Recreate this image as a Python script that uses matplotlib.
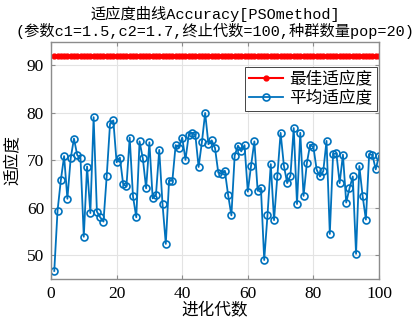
import numpy as np
import matplotlib
matplotlib.use('Agg')
import matplotlib.pyplot as plt

# data
gens = np.arange(1, 101)
best_fit = [92.0] * 100
mean_fit = [46.7, 59.4, 65.8, 70.9, 61.9, 70.4, 74.6, 71.1, 70.4, 53.9,
            68.7, 58.9, 79.1, 59.2, 58.0, 57.1, 66.8, 77.7, 78.4, 69.6,
            70.6, 65.0, 64.5, 74.8, 62.4, 58.0, 74.0, 70.4, 64.1, 73.8,
            62.0, 62.7, 72.2, 60.8, 52.4, 65.7, 65.7, 73.2, 72.7, 74.8,
            70.1, 75.4, 75.8, 75.4, 68.6, 73.8, 80.0, 73.4, 74.2, 72.6,
            67.4, 67.1, 67.8, 62.7, 58.4, 71.0, 73.1, 71.9, 73.2, 63.4,
            68.9, 74.0, 63.6, 64.2, 49.0, 58.4, 69.2, 57.4, 66.6, 75.8,
            68.9, 65.2, 66.8, 76.8, 60.8, 75.8, 62.5, 69.4, 73.3, 72.8,
            68.0, 66.6, 67.7, 74.1, 54.5, 71.3, 71.5, 65.2, 71.2, 61.1,
            64.1, 66.6, 50.3, 68.8, 62.5, 57.5, 71.3, 71.1, 68.1, 71.0]
xticks = [0, 20, 40, 60, 80, 100]
yticks = [50, 60, 70, 80, 90]

cjk = ['Noto Sans CJK SC', 'DejaVu Sans']
mono = ['Liberation Mono', 'Noto Sans CJK SC']
plt.rcParams['font.family'] = ['Liberation Serif', 'Noto Sans CJK SC']

fig = plt.figure(figsize=(4.2, 3.23), dpi=100)
ax = fig.add_axes([0.1214, 0.1362, 0.781, 0.7347])

ax.plot(gens, best_fit, color='#ff0000', ls='-', marker='.', lw=1.5, ms=7,
        label='最佳适应度')
ax.plot(gens, mean_fit, color='#0072bd', ls='-', marker='o', lw=1.3, ms=5,
        mfc='none', mew=1.2, label='平均适应度')

ax.set_xlim(0, 100)
ax.set_ylim(45, 95)
ax.set_xticks(xticks)
ax.set_yticks(yticks)
ax.grid(True, color='#e3e3e3', lw=0.8)
ax.set_axisbelow(True)
for s in ax.spines.values():
    s.set_color('#8c8c8c')
    s.set_linewidth(1.0)
ax.tick_params(direction='in', length=3, color='#8c8c8c', top=True, right=True,
               labelsize=12.5, pad=5)

ax.set_xlabel('进化代数', family=cjk, fontsize=12, labelpad=0)
ax.set_ylabel('适应度', family=cjk, fontsize=12, labelpad=4)
ax.set_title('适应度曲线Accuracy[PSOmethod]\n(参数c1=1.5,c2=1.7,终止代数=100,种群数量pop=20)',
             family=mono, fontsize=11, linespacing=1.05, pad=4)

leg = ax.legend(loc='upper right', bbox_to_anchor=(0.993, 0.895), borderaxespad=0,
                fancybox=False, edgecolor='#262626', framealpha=1,
                prop={'family': cjk, 'size': 12}, handlelength=2.0,
                handletextpad=0.4, borderpad=0.25, labelspacing=0.15)
leg.get_frame().set_linewidth(0.6)

fig.savefig('out.png', dpi=100)
